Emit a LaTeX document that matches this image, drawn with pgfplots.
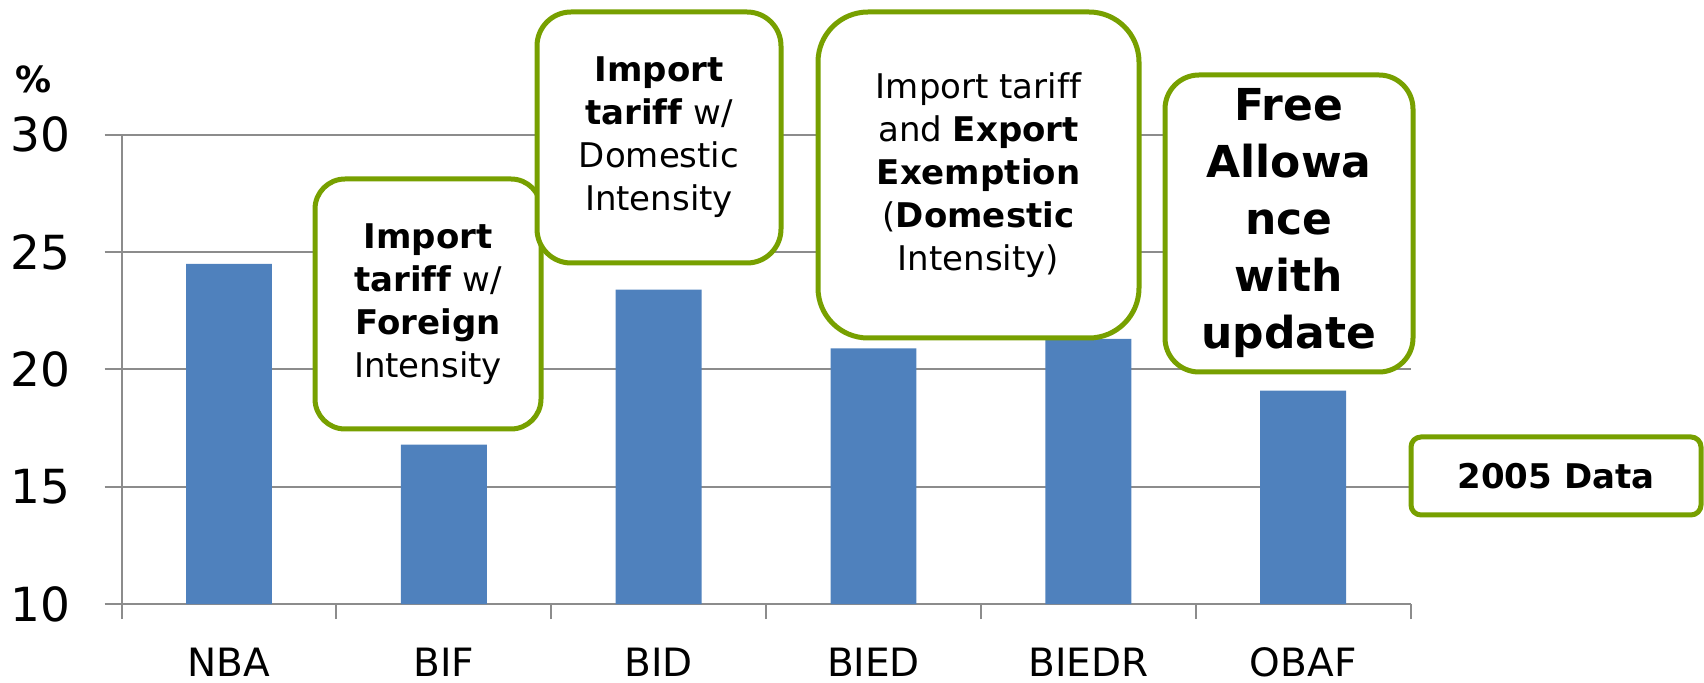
\documentclass[border=0pt]{standalone}
\usepackage{pgfplots}
\pgfplotsset{compat=1.18}
\usepackage{fontspec}
\setmainfont[Ligatures=NoCommon]{DejaVu Sans}
\definecolor{barblue}{RGB}{79,129,189}
\definecolor{boxgreen}{RGB}{119,160,0}
\definecolor{gridgray}{RGB}{140,140,140}
\begin{document}
\begin{tikzpicture}
\path[use as bounding box] (0,0) rectangle (852pt,-341.5pt);
\begin{axis}[
  at={(60.8pt,-302.1pt)}, anchor=south west,
  scale only axis, width=644.5pt, height=234.75pt,
  xmin=-0.5, xmax=5.5, ymin=10, ymax=30,
  axis x line*=bottom, axis y line*=left,
  axis line style={gridgray, line width=1pt, -},
  ytick={10,15,20,25,30},
  ymajorgrids, grid style={gridgray, line width=1pt},
  xtick={0,...,5}, xticklabels={NBA,BIF,BID,BIED,BIEDR,OBAF},
  minor xtick={-0.5,0.5,...,5.5},
  tick align=outside,
  major tick length=8.5pt, minor tick length=7.5pt,
  tick style={gridgray, line width=1pt},
  major x tick style={draw=none},
  /pgf/number format/assume math mode=true,
  yticklabel style={font=\fontsize{23.5pt}{27pt}\selectfont, anchor=east, inner sep=0pt, xshift=-16.8pt},
  xticklabel style={font=\fontsize{19.5pt}{23pt}\selectfont, anchor=base, inner sep=0pt, yshift=-27.4pt},
]
\addplot[ybar, bar width=0.4, fill=barblue, draw=none] coordinates {(0,24.5) (1,16.8) (2,23.4) (3,20.9) (4,21.3) (5,19.1)};
\end{axis}
\node[font=\bfseries\fontsize{18pt}{20pt}\selectfont, inner sep=0pt] at (17pt,-39.5pt) {\%};
% Box 1
\draw[boxgreen, line width=2.5pt, fill=white, rounded corners=15pt] (157.5pt,-89.5pt) rectangle (270.5pt,-214.5pt);
\node[align=center, font=\fontsize{17pt}{21.5pt}\selectfont] at (214pt,-152pt) {\textbf{Import}\\\textbf{tariff} w/\\\textbf{Foreign}\\Intensity};
% Box 2
\draw[boxgreen, line width=2.5pt, fill=white, rounded corners=17pt] (268.5pt,-6pt) rectangle (390.5pt,-131.5pt);
\node[align=center, font=\fontsize{17pt}{21.5pt}\selectfont] at (329.5pt,-68.75pt) {\textbf{Import}\\\textbf{tariff} w/\\Domestic\\Intensity};
% Box 3
\draw[boxgreen, line width=2.5pt, fill=white, rounded corners=25pt] (409pt,-6pt) rectangle (569.5pt,-169pt);
\node[align=center, font=\fontsize{17pt}{21.5pt}\selectfont] at (489.25pt,-87.5pt) {Import tariff\\and \textbf{Export}\\\textbf{Exemption}\\(\textbf{Domestic}\\Intensity)};
% Box 4
\draw[boxgreen, line width=2.5pt, fill=white, rounded corners=17pt] (582.5pt,-37.5pt) rectangle (706.5pt,-186pt);
\node[align=center, font=\bfseries\fontsize{22pt}{28.5pt}\selectfont] at (644.5pt,-111.75pt) {Free\\Allowa\\nce\\with\\update};
% Box 5
\draw[boxgreen, line width=2.5pt, fill=white, rounded corners=5pt] (705.5pt,-218.5pt) rectangle (850.5pt,-257.5pt);
\node[font=\bfseries\fontsize{17pt}{21.5pt}\selectfont] at (778pt,-238pt) {2005 Data};
\end{tikzpicture}
\end{document}
